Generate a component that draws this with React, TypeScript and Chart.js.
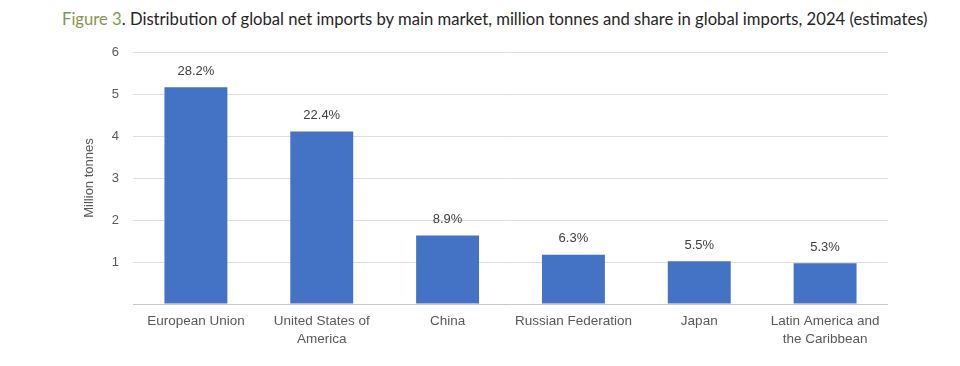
import React, { useEffect, useRef } from "react";
import { Chart, registerables } from "chart.js";

Chart.register(...registerables);

const categories: (string | string[])[] = [
  "European Union",
  ["United States of", "America"],
  "China",
  "Russian Federation",
  "Japan",
  ["Latin America and", "the Caribbean"],
];
const netImports = [5.16, 4.11, 1.63, 1.17, 1.02, 0.97];
const shareLabels = ["28.2%", "22.4%", "8.9%", "6.3%", "5.5%", "5.3%"];
const yTicks = [0, 1, 2, 3, 4, 5, 6];

const FONT = "'Liberation Sans', Arial, sans-serif";

const barLabelPlugin = {
  id: "barLabels",
  afterDatasetsDraw(chart: any) {
    const { ctx } = chart;
    const meta = chart.getDatasetMeta(0);
    ctx.save();
    ctx.font = `13px ${FONT}`;
    ctx.fillStyle = "#404040";
    ctx.textAlign = "center";
    ctx.textBaseline = "middle";
    meta.data.forEach((el: any, i: number) => {
      ctx.fillText(shareLabels[i], el.x, el.y - 16);
    });
    ctx.restore();
  },
};

export default function App() {
  const ref = useRef<HTMLCanvasElement>(null);

  useEffect(() => {
    if (!ref.current) return;
    const chart = new Chart(ref.current, {
      type: "bar",
      data: {
        labels: categories,
        datasets: [
          {
            data: netImports,
            backgroundColor: "#4472C4",
            barPercentage: 0.5,
            categoryPercentage: 1,
          },
        ],
      },
      options: {
        animation: false,
        responsive: false,
        maintainAspectRatio: false,
        layout: { padding: { top: 52, left: 82, right: 72, bottom: 0 } },
        plugins: {
          legend: { display: false },
          tooltip: { enabled: false },
          title: { display: false },
        },
        scales: {
          x: {
            grid: { display: false, drawTicks: false },
            border: { display: false },
            ticks: {
              color: "#595959",
              font: { size: 13.5, family: FONT, lineHeight: 1.28 },
              padding: 9,
              maxRotation: 0,
              autoSkip: false,
            },
            afterFit(scale: any) {
              scale.height = 62;
            },
          },
          y: {
            min: 0,
            max: 6,
            afterBuildTicks(scale: any) {
              scale.ticks = yTicks.map((v) => ({ value: v }));
            },
            grid: {
              drawTicks: false,
              color: (c: any) => (c.tick && c.tick.value === 0 ? "#c8c8c8" : "#dedede"),
              lineWidth: 1,
            },
            border: { display: false },
            ticks: {
              color: "#595959",
              font: { size: 13, family: FONT },
              padding: 14,
              callback: (v: any) => (v === 0 ? "" : String(v)),
            },
            title: {
              display: true,
              text: "Million tonnes",
              color: "#595959",
              font: { size: 13, family: FONT },
              padding: { top: 0, bottom: 0 },
            },
            afterFit(scale: any) {
              scale.width = 51;
            },
          },
        },
      },
      plugins: [barLabelPlugin],
    });
    return () => chart.destroy();
  }, []);

  return (
    <div
      style={{
        position: "absolute",
        left: 0,
        top: 0,
        width: 960,
        height: 366,
        background: "#ffffff",
        overflow: "hidden",
      }}
    >
      <div
        style={{
          position: "absolute",
          left: 62,
          top: 8,
          whiteSpace: "nowrap",
          fontFamily: "Lato, 'Open Sans', sans-serif",
          fontSize: 16.65,
          color: "#262626",
          lineHeight: "22px",
        }}
      >
        <span style={{ color: "#7f9a4e" }}>Figure 3</span>. Distribution of global net imports by main market, million
        tonnes and share in global imports, 2024 (estimates)
      </div>
      <canvas ref={ref} width={960} height={366} style={{ position: "absolute", left: 0, top: 0 }} />
    </div>
  );
}
